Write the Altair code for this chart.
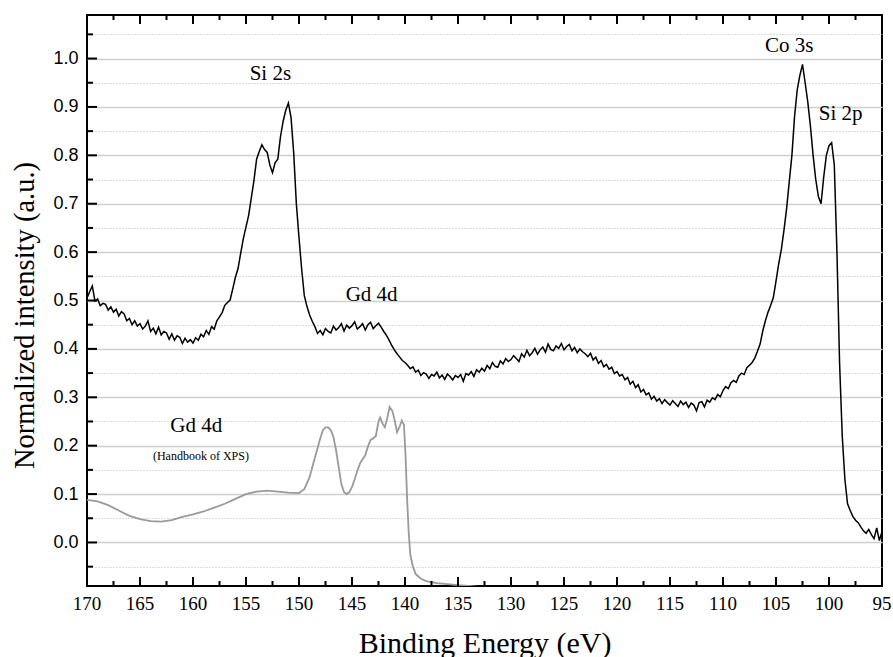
import altair as alt
import pandas as pd

# ---------------- data ----------------
# measured spectrum, one value every 0.25 eV from 170 eV down to 95 eV
measured_start = 170.0
measured_step = 0.25
measured_values = [
    # 170 -> 165.25
    0.505, 0.518, 0.530, 0.499, 0.503, 0.489, 0.494, 0.492, 0.480, 0.487,
    0.476, 0.482, 0.468, 0.477, 0.472, 0.458, 0.463, 0.450, 0.458, 0.447,
    # 165 -> 160.25
    0.452, 0.441, 0.447, 0.458, 0.436, 0.443, 0.431, 0.445, 0.429, 0.436,
    0.433, 0.420, 0.431, 0.418, 0.427, 0.424, 0.411, 0.422, 0.414, 0.419,
    # 160 -> 155.25
    0.412, 0.423, 0.418, 0.430, 0.425, 0.438, 0.430, 0.446, 0.441, 0.458,
    0.466, 0.475, 0.490, 0.496, 0.501, 0.524, 0.548, 0.566, 0.598, 0.628,
    # 155 -> 150.25
    0.652, 0.676, 0.712, 0.748, 0.792, 0.808, 0.822, 0.812, 0.806, 0.780,
    0.764, 0.785, 0.792, 0.838, 0.870, 0.893, 0.908, 0.878, 0.805, 0.700,
    # 150 -> 145.25
    0.630, 0.565, 0.510, 0.488, 0.470, 0.457, 0.446, 0.432, 0.438, 0.429,
    0.442, 0.436, 0.433, 0.447, 0.439, 0.444, 0.452, 0.437, 0.449, 0.443,
    # 145 -> 140.25
    0.448, 0.456, 0.441, 0.446, 0.452, 0.439, 0.450, 0.455, 0.442, 0.448,
    0.453, 0.445, 0.436, 0.428, 0.418, 0.407, 0.398, 0.390, 0.383, 0.376,
    # 140 -> 135.25
    0.372, 0.366, 0.359, 0.363, 0.352, 0.356, 0.345, 0.351, 0.348, 0.339,
    0.347, 0.344, 0.352, 0.340, 0.346, 0.337, 0.348, 0.343, 0.336, 0.345,
    # 135 -> 130.25
    0.341, 0.347, 0.333, 0.349, 0.346, 0.353, 0.343, 0.357, 0.352, 0.360,
    0.354, 0.366, 0.359, 0.372, 0.364, 0.362, 0.375, 0.369, 0.380, 0.374,
    # 130 -> 125.25
    0.378, 0.386, 0.380, 0.374, 0.390, 0.383, 0.397, 0.386, 0.392, 0.401,
    0.389, 0.398, 0.404, 0.393, 0.410, 0.399, 0.396, 0.406, 0.401, 0.411,
    # 125 -> 120.25
    0.398, 0.405, 0.409, 0.396, 0.403, 0.392, 0.400, 0.394, 0.390, 0.384,
    0.391, 0.377, 0.383, 0.370, 0.376, 0.363, 0.368, 0.358, 0.362, 0.349,
    # 120 -> 115.25
    0.353, 0.344, 0.347, 0.336, 0.341, 0.327, 0.333, 0.320, 0.326, 0.311,
    0.316, 0.305, 0.309, 0.296, 0.302, 0.292, 0.297, 0.287, 0.295, 0.289,
    # 115 -> 110.25
    0.284, 0.293, 0.287, 0.281, 0.292, 0.285, 0.290, 0.279, 0.288, 0.284,
    0.272, 0.289, 0.291, 0.280, 0.294, 0.290, 0.299, 0.295, 0.306, 0.301,
    # 110 -> 105.25
    0.314, 0.322, 0.318, 0.330, 0.335, 0.331, 0.344, 0.350, 0.347, 0.361,
    0.366, 0.372, 0.381, 0.395, 0.410, 0.437, 0.458, 0.476, 0.490, 0.506,
    # 105 -> 100.25
    0.540, 0.575, 0.605, 0.645, 0.690, 0.745, 0.800, 0.880, 0.935, 0.965,
    0.988, 0.950, 0.910, 0.860, 0.800, 0.750, 0.715, 0.700, 0.755, 0.800,
    # 100 -> 95.25
    0.820, 0.826, 0.780, 0.600, 0.370, 0.220, 0.130, 0.080, 0.066, 0.054,
    0.046, 0.041, 0.032, 0.024, 0.019, 0.027, 0.016, 0.008, 0.030, 0.004,
    # 95
    0.022,
]
measured_energy = [measured_start - measured_step * i for i in range(len(measured_values))]

# Gd 4d reference spectrum (Handbook of XPS)
handbook_energy = [
    170.0, 169.0, 168.0, 167.0, 166.0, 165.0, 164.0, 163.0, 162.0, 161.0,
    160.0, 159.0, 158.0, 157.0, 156.0, 155.0, 154.0, 153.0, 152.0, 151.0,
    150.0, 149.5, 149.0, 148.5, 148.0, 147.75, 147.5, 147.25, 147.0, 146.75,
    146.5, 146.25, 146.0, 145.75, 145.5, 145.25, 145.0, 144.75, 144.5, 144.25,
    144.0, 143.75, 143.5, 143.25, 143.0, 142.75, 142.5, 142.35, 142.1, 141.9,
    141.7, 141.45, 141.2, 141.0, 140.75, 140.5, 140.3, 140.1, 139.95, 139.8,
    139.65, 139.5, 139.25, 139.0, 138.5, 138.0, 137.0, 136.0, 135.0, 134.0,
    133.0,
]
handbook_values = [
    0.088, 0.085, 0.077, 0.066, 0.055, 0.048, 0.044, 0.043, 0.046, 0.053,
    0.058, 0.064, 0.072, 0.080, 0.090, 0.100, 0.105, 0.107, 0.105, 0.103,
    0.102, 0.110, 0.135, 0.175, 0.215, 0.232, 0.238, 0.238, 0.232, 0.218,
    0.190, 0.155, 0.120, 0.104, 0.100, 0.104, 0.115, 0.130, 0.148, 0.163,
    0.172, 0.180, 0.198, 0.212, 0.215, 0.220, 0.250, 0.258, 0.245, 0.238,
    0.255, 0.280, 0.272, 0.255, 0.228, 0.240, 0.252, 0.243, 0.180, 0.090,
    0.020, -0.025, -0.050, -0.065, -0.075, -0.080, -0.084, -0.086, -0.088, -0.090,
    -0.092,
]

# annotations
label_text = ["Si 2s", "Gd 4d", "Co 3s", "Si 2p", "Gd 4d"]
label_energy = [152.7, 143.15, 103.75, 98.9, 159.7]
label_value = [0.955, 0.498, 1.013, 0.873, 0.228]
note_text = ["(Handbook of XPS)"]
note_energy = [159.25]
note_value = [0.170]

# axis ticks and tick labels
x_major = [170, 165, 160, 155, 150, 145, 140, 135, 130, 125, 120, 115, 110, 105, 100, 95]
x_tick_labels = ["170", "165", "160", "155", "150", "145", "140", "135", "130", "125",
                 "120", "115", "110", "105", "100", "95"]
x_minor = [167.5, 162.5, 157.5, 152.5, 147.5, 142.5, 137.5, 132.5, 127.5, 122.5,
           117.5, 112.5, 107.5, 102.5, 97.5]
y_major = [0.0, 0.1, 0.2, 0.3, 0.4, 0.5, 0.6, 0.7, 0.8, 0.9, 1.0]
y_minor = [-0.05, 0.05, 0.15, 0.25, 0.35, 0.45, 0.55, 0.65, 0.75, 0.85, 0.95, 1.05]
y_all = sorted(y_major + y_minor)

# ---------------- chart ----------------
W, H = 795, 571
SERIF = "Liberation Serif"
SANS = "Liberation Sans"

xscale = alt.Scale(domain=[95, 170], reverse=True, nice=False, zero=False)
yscale = alt.Scale(domain=[-0.09, 1.09], nice=False, zero=False)

measured = pd.DataFrame({"E": measured_energy, "v": measured_values})
handbook = pd.DataFrame({"E": handbook_energy, "v": handbook_values})
labels = pd.DataFrame({"E": label_energy, "v": label_value, "t": label_text})
notes = pd.DataFrame({"E": note_energy, "v": note_value, "t": note_text})
xlab = pd.DataFrame({"E": x_major, "t": x_tick_labels})

is_minor = "abs(round(datum.value*20)) % 2 == 1"

x_axis = alt.Axis(
    values=x_major, ticks=False, grid=False, domain=False, labels=False,
    title="Binding Energy (eV)", titleFont=SERIF, titleFontSize=30,
    titleFontWeight="normal", titleColor="black",
    titleX=W / 2, titleY=66, titleBaseline="alphabetic", titleAlign="center",
)
y_axis = alt.Axis(
    values=y_all, ticks=False, domain=False, labelFlush=False,
    labelExpr="abs(round(datum.value*20)) % 2 == 0 ? format(datum.value, '.1f') : ''",
    labelFont=SANS, labelFontSize=18, labelColor="black", labelPadding=9,
    grid=True,
    gridColor={"condition": {"test": is_minor, "value": "#b8b8b8"}, "value": "#cfcfcf"},
    gridDash={"condition": {"test": is_minor, "value": [1, 2]}, "value": []},
    gridWidth={"condition": {"test": is_minor, "value": 1}, "value": 1.5},
    gridOpacity=1,
    title="Normalized intensity (a.u.)", titleFont=SERIF, titleFontSize=28.5,
    titleFontWeight="normal", titleColor="black", titleAngle=-90,
    titleX=-54, titleY=300, titleBaseline="alphabetic", titleAlign="center",
)

X = alt.X("E:Q", scale=xscale, axis=x_axis)
Y = alt.Y("v:Q", scale=yscale, axis=y_axis)

base_line = alt.Chart(measured).mark_line(color="black", strokeWidth=1.5).encode(x=X, y=Y)
ref_line = alt.Chart(handbook).mark_line(color="#9a9a9a", strokeWidth=1.8, clip=True).encode(x=X, y=Y)

label_layer = alt.Chart(labels).mark_text(
    font=SERIF, fontSize=21, color="black", align="center", baseline="alphabetic"
).encode(x=X, y=Y, text="t:N")
note_layer = alt.Chart(notes).mark_text(
    font=SERIF, fontSize=12, color="black", align="center", baseline="alphabetic"
).encode(x=X, y=Y, text="t:N")

# serif tick labels under the x axis
xlab_layer = alt.Chart(xlab).mark_text(
    font=SERIF, fontSize=19, color="black", align="center", baseline="alphabetic"
).encode(x=X, y=alt.value(H + 24), text="t:N")


def xticks(vals, length):
    d = pd.DataFrame({"E": vals})
    bottom = alt.Chart(d).mark_rule(color="black", strokeWidth=2).encode(
        x=X, y=alt.value(H), y2=alt.value(H - length),
    )
    top = alt.Chart(d).mark_rule(color="black", strokeWidth=2).encode(
        x=X, y=alt.value(0), y2=alt.value(length),
    )
    return [bottom, top]


def yticks(vals, length):
    d = pd.DataFrame({"v": vals})
    return [alt.Chart(d).mark_rule(color="black", strokeWidth=2).encode(
        y=Y, x=alt.value(0), x2=alt.value(length),
    )]


layers = [base_line, ref_line, label_layer, note_layer, xlab_layer]
layers += xticks(x_major, 9) + xticks(x_minor, 5)
layers += yticks(y_major, 10) + yticks(y_minor, 6)

chart = alt.layer(*layers).properties(
    width=W, height=H,
    autosize=alt.AutoSizeParams(type="none"),
    padding={"left": 87, "top": 15, "right": 11, "bottom": 71},
    background="white",
).configure_view(
    stroke="black", strokeWidth=2
).configure_axisY(
    labelFont=SANS, labelFontSize=18
)

chart.save("out.html", embed_options={"renderer": "svg", "actions": False})
